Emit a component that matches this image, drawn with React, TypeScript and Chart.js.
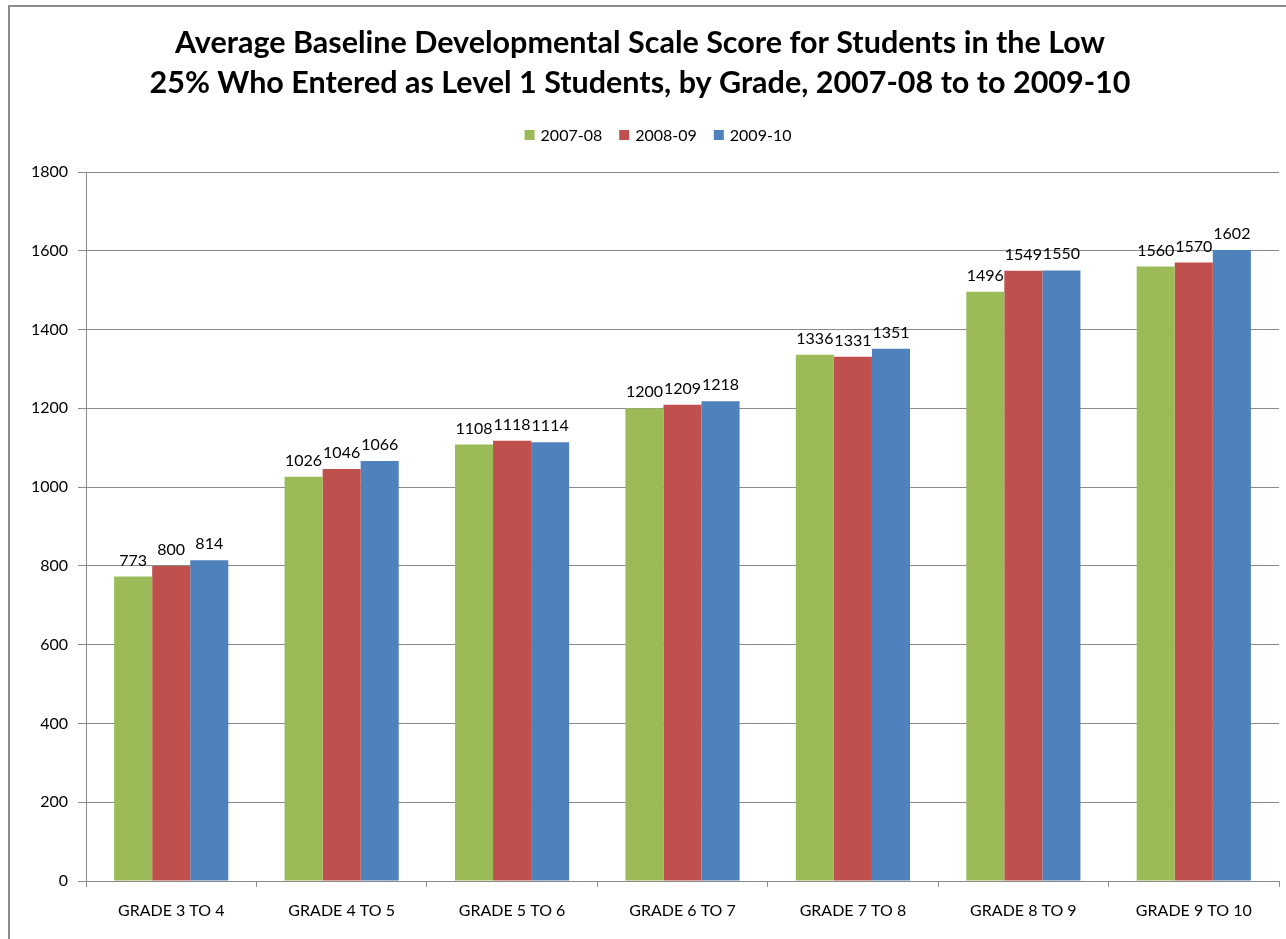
import React, { useEffect, useRef } from "react";
import { Chart, registerables } from "chart.js";

Chart.register(...registerables);

const categories = [
  "GRADE 3 TO 4",
  "GRADE 4 TO 5",
  "GRADE 5 TO 6",
  "GRADE 6 TO 7",
  "GRADE 7 TO 8",
  "GRADE 8 TO 9",
  "GRADE 9 TO 10",
];
const seriesNames = ["2007-08", "2008-09", "2009-10"];
const values2007 = [773, 1026, 1108, 1200, 1336, 1496, 1560];
const values2008 = [800, 1046, 1118, 1209, 1331, 1549, 1570];
const values2009 = [814, 1066, 1114, 1218, 1351, 1550, 1602];
const seriesColors = ["#9BBB59", "#C0504D", "#4F81BD"];
const titleLines = [
  "Average Baseline Developmental Scale Score for Students in the Low",
  "25% Who Entered as Level 1 Students, by Grade, 2007-08 to to 2009-10",
];
const yMin = 0;
const yMax = 1800;
const yStep = 200;

const FONT = "Lato, 'Open Sans', sans-serif";
const GRID = "#8a8a8a";

const decorPlugin = {
  id: "decor",
  beforeDraw(chart: any) {
    const ctx = chart.ctx;
    ctx.save();
    ctx.fillStyle = "#ffffff";
    ctx.fillRect(0, 0, chart.width, chart.height);
    ctx.strokeStyle = "#8c8c8c";
    ctx.lineWidth = 2;
    ctx.beginPath();
    ctx.moveTo(9, chart.height + 5);
    ctx.lineTo(9, 6);
    ctx.lineTo(chart.width + 5, 6);
    ctx.stroke();
    ctx.restore();
  },
  afterDatasetsDraw(chart: any) {
    const ctx = chart.ctx;
    ctx.save();
    ctx.fillStyle = "#000000";
    ctx.font = `16px ${FONT}`;
    ctx.textAlign = "center";
    ctx.textBaseline = "alphabetic";
    chart.data.datasets.forEach((ds: any, di: number) => {
      const meta = chart.getDatasetMeta(di);
      meta.data.forEach((bar: any, i: number) => {
        ctx.fillText(String(ds.data[i]), bar.x, bar.y - 11);
      });
    });
    ctx.restore();
  },
  afterDraw(chart: any) {
    const ctx = chart.ctx;
    ctx.save();
    // Title
    ctx.fillStyle = "#000000";
    ctx.font = `bold 30.5px ${FONT}`;
    ctx.textAlign = "center";
    ctx.textBaseline = "alphabetic";
    const cx = 640;
    titleLines.forEach((line, i) => {
      ctx.fillText(line, cx, 53 + i * 40);
    });
    // Legend
    ctx.font = `16px ${FONT}`;
    const box = 10;
    const gapBoxText = 6;
    const gapItems = 17;
    const widths = seriesNames.map((n) => ctx.measureText(n).width);
    const total =
      widths.reduce((a, w) => a + box + gapBoxText + w, 0) +
      gapItems * (seriesNames.length - 1);
    let x = 658 - total / 2;
    ctx.textAlign = "left";
    seriesNames.forEach((n, i) => {
      ctx.fillStyle = seriesColors[i];
      ctx.fillRect(x, 130, box, box);
      ctx.fillStyle = "#000000";
      ctx.fillText(n, x + box + gapBoxText, 141);
      x += box + gapBoxText + widths[i] + gapItems;
    });
    ctx.restore();
  },
};

export default function App() {
  const canvasRef = useRef<HTMLCanvasElement | null>(null);

  useEffect(() => {
    if (!canvasRef.current) return;
    const chart = new Chart(canvasRef.current, {
      type: "bar",
      data: {
        labels: categories,
        datasets: [values2007, values2008, values2009].map((vals, i) => ({
          label: seriesNames[i],
          data: vals,
          backgroundColor: seriesColors[i],
          borderWidth: 0,
          categoryPercentage: 0.67,
          barPercentage: 1,
        })),
      },
      options: {
        animation: false,
        responsive: true,
        maintainAspectRatio: false,
        devicePixelRatio: 1,
        layout: { padding: { top: 172, left: 0, right: 7, bottom: 0 } },
        plugins: {
          legend: { display: false },
          title: { display: false },
          tooltip: { enabled: false },
        },
        scales: {
          x: {
            grid: {
              display: true,
              drawOnChartArea: false,
              offset: true,
              tickLength: 6,
              color: GRID,
            },
            border: { display: true, color: GRID, width: 1 },
            ticks: {
              color: "#000000",
              font: { family: FONT, size: 16 },
              padding: 14,
              maxRotation: 0,
              autoSkip: false,
            },
            afterFit: (s: any) => {
              s.height = 58;
            },
          },
          y: {
            min: yMin,
            max: yMax,
            ticks: {
              stepSize: yStep,
              color: "#000000",
              font: { family: FONT, size: 16 },
              padding: 10,
              callback: (v: any) => String(v),
            },
            grid: {
              color: GRID,
              tickLength: 8,
              lineWidth: 1,
            },
            border: { display: true, color: GRID, width: 1 },
            afterFit: (s: any) => {
              s.width = 86;
            },
          },
        },
      },
      plugins: [decorPlugin],
    });
    return () => chart.destroy();
  }, []);

  return (
    <div
      style={{
        position: "fixed",
        left: 0,
        top: 0,
        width: 1286,
        height: 939,
        background: "#ffffff",
      }}
    >
      <canvas ref={canvasRef} />
    </div>
  );
}
